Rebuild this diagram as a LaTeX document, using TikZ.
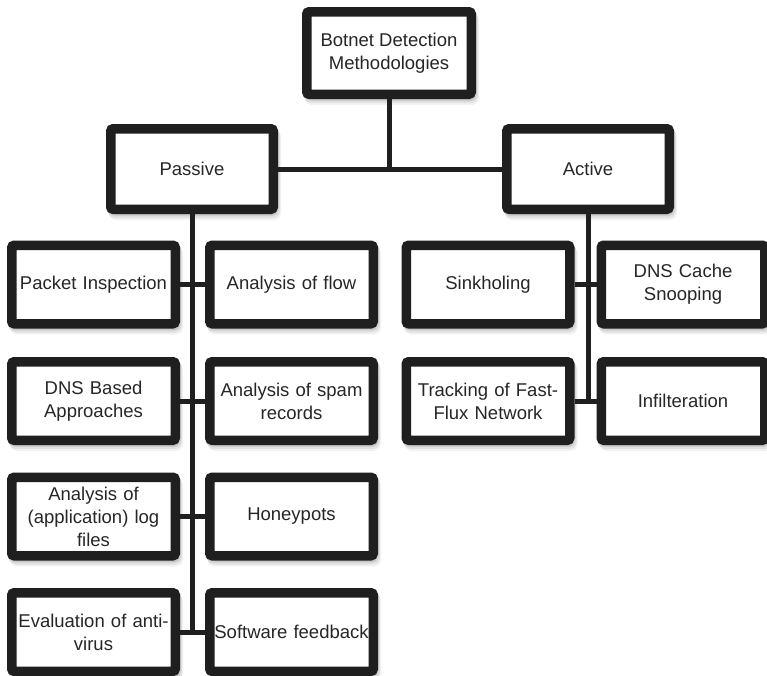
\documentclass[tikz,border=0pt]{standalone}
\usepackage{fontspec}
\setmainfont{Liberation Sans}
\begin{document}
\begin{tikzpicture}[x=1pt,y=-1pt,
  softshade/.style={
    preaction={draw=black, fill=black, line width=9.5pt, opacity=0.07,
      transform canvas={shift={(1pt,-2pt)}}},
    preaction={draw=black, fill=black, line width=9.5pt, opacity=0.07,
      transform canvas={shift={(2pt,-4pt)}}},
    preaction={draw=black, fill=black, line width=9.5pt, opacity=0.05,
      transform canvas={shift={(3pt,-6pt)}}}},
  catbox/.style={softshade, draw=black!88, fill=white, line width=9.5pt,
    rounded corners=2.5pt, inner sep=1pt, align=center,
    text=black!85, font=\fontsize{18.5}{23}\selectfont},
  topbox/.style={catbox, minimum width=164.5pt, minimum height=82.5pt},
  midbox/.style={catbox, minimum width=162.5pt, minimum height=80.5pt},
  leafbox/.style={catbox, minimum width=163.5pt, minimum height=78.5pt,
    text width=160pt},
  link/.style={draw=black!88, line width=5pt}
]
\useasboundingbox (0,0) rectangle (767,675);

% box centres of the two upper levels
\coordinate (rootpt) at (389,53);
\coordinate (pasc) at (192,169);
\coordinate (actc) at (588,169);

% boxes
\node[topbox] (root) at (rootpt) {Botnet Detection\\Methodologies};
\node[midbox] (pas) at (pasc) {Passive};
\node[midbox] (act) at (actc) {Active};

\node[leafbox] (pkt)  at (93.5,284.5) {Packet Inspection};
\node[leafbox] (flow) at (291.5,284.5) {Analysis of flow};
\node[leafbox] (dns)  at (93.5,401) {DNS Based\\Approaches};
\node[leafbox] (spam) at (291.5,401) {Analysis of spam\\records};
\node[leafbox] (logs) at (93.5,516.5) {Analysis of\\(application) log\\files};
\node[leafbox] (honey) at (291.5,516.5) {Honeypots};
\node[leafbox] (av)   at (93.5,632) {Evaluation of anti-\\virus};
\node[leafbox] (soft) at (291.5,632) {Software feedback};

\node[leafbox] (sink) at (488,284.5) {Sinkholing};
\node[leafbox] (cache) at (683,284.5) {DNS Cache\\Snooping};
\node[leafbox] (ffx)  at (488,401) {Tracking of Fast-\\Flux Network};
\node[leafbox] (infil) at (683,401) {Infilteration};

% connectors
\draw[link] (root.south) -- (root.south |- pas.east);
\draw[link] (pas.east) -- (act.west);

\draw[link] (pas.south) -- (pas.south |- av.east);
\draw[link] (pkt.east) -- (flow.west);
\draw[link] (dns.east) -- (spam.west);
\draw[link] (logs.east) -- (honey.west);
\draw[link] (av.east) -- (soft.west);

\draw[link] (act.south) -- (act.south |- ffx.east);
\draw[link] (sink.east) -- (cache.west);
\draw[link] (ffx.east) -- (infil.west);
\end{tikzpicture}
\end{document}
